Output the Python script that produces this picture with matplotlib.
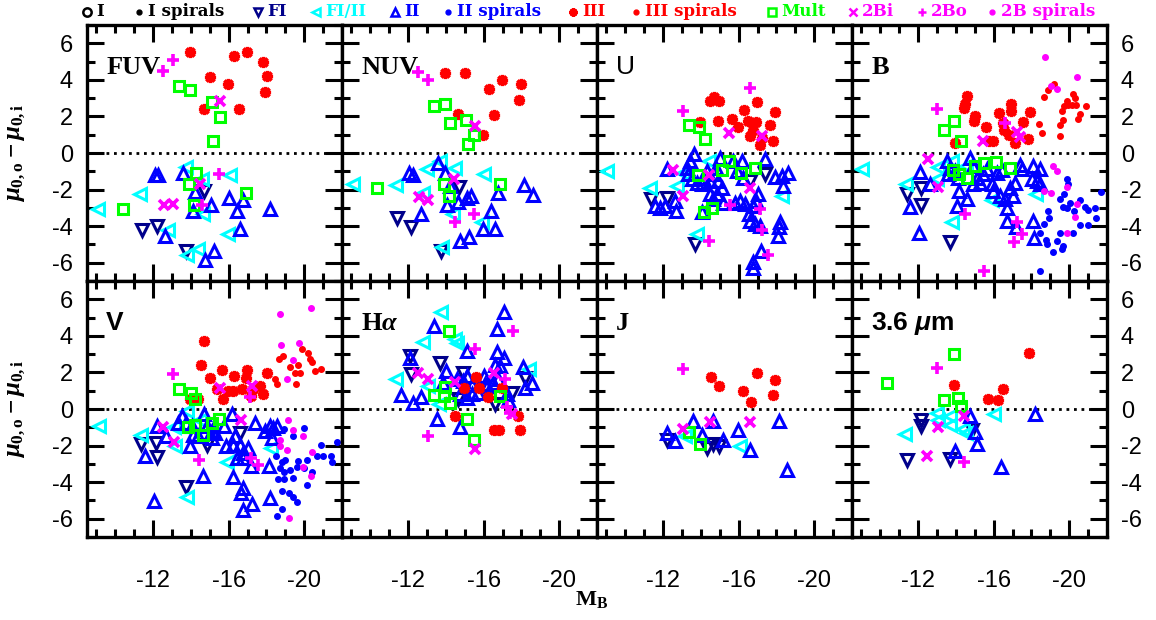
import matplotlib.pyplot as plt
from matplotlib.lines import Line2D
from matplotlib.ticker import MultipleLocator

plt.rcParams['font.family'] = ['Liberation Sans', 'DejaVu Sans']
plt.rcParams['axes.unicode_minus'] = False
plt.rcParams['mathtext.fontset'] = 'custom'
plt.rcParams['mathtext.rm'] = 'Liberation Serif:bold'
plt.rcParams['mathtext.bf'] = 'Liberation Serif:bold'
plt.rcParams['mathtext.it'] = 'Liberation Serif:bold:italic'
plt.rcParams['mathtext.sf'] = 'Liberation Sans:bold:italic'

# (M_B, mu_0,o - mu_0,i) per profile class, one set per band
fuv_fi = [(-11.41, -4.22), (-12.19, -3.98), (-14.69, -2.08), (-13.74, -5.35)]
fuv_fi_ii = [(-9.10, -3.04), (-11.31, -2.22), (-13.74, -0.77), (-14.59, -1.44), (-16.07, -1.21),
             (-12.81, -4.22), (-14.62, -3.35), (-15.98, -4.44), (-14.39, -5.25), (-13.78, -5.56)]
fuv_ii = [(-12.10, -1.21), (-12.28, -1.21), (-13.60, -1.08), (-14.22, -2.11), (-14.13, -3.17),
          (-15.05, -2.84), (-16.02, -2.48), (-16.42, -3.17), (-16.78, -2.59), (-18.19, -3.08),
          (-16.60, -4.17), (-12.63, -4.53), (-15.22, -5.35), (-14.76, -5.84)]
fuv_iii = [(-13.95, 5.51), (-16.28, 5.33), (-16.99, 5.51), (-17.80, 5.00), (-18.01, 4.19),
           (-17.94, 3.33), (-15.01, 4.17), (-15.98, 3.77), (-14.69, 2.42), (-16.56, 2.42)]
fuv_mult = [(-13.39, 3.68), (-13.95, 3.46), (-15.12, 2.79), (-15.54, 1.95), (-15.19, 0.65),
            (-14.27, -1.08), (-13.90, -1.71), (-14.16, -2.84), (-10.39, -3.08), (-16.92, -2.17)]
fuv_2bi = [(-15.54, 2.86), (-14.48, -1.68), (-12.58, -2.84), (-13.07, -2.80)]
fuv_2bo = [(-13.07, 5.09), (-12.54, 4.46), (-15.51, -1.17), (-14.57, -2.84)]

nuv_fi = [(-11.41, -3.57), (-12.15, -4.07), (-14.69, -1.86), (-13.72, -5.38)]
nuv_fi_ii = [(-9.06, -1.68), (-11.36, -1.75), (-13.02, -0.90), (-14.48, -0.81), (-16.02, -1.13),
             (-12.77, -2.17), (-14.39, -3.31), (-15.93, -3.80), (-13.78, -5.16), (-13.70, -0.45)]
nuv_ii = [(-13.56, -0.53), (-12.05, -1.08), (-12.24, -1.22), (-13.97, -1.08), (-14.22, -1.81),
          (-14.66, -2.66), (-15.10, -2.48), (-15.33, -2.35), (-14.04, -2.84), (-12.66, -3.35),
          (-16.37, -3.17), (-16.78, -2.17), (-18.15, -1.77), (-18.59, -2.30), (-15.98, -4.17),
          (-16.60, -4.13), (-14.75, -4.80), (-15.24, -4.62)]
nuv_iii = [(-13.97, 4.37), (-14.99, 4.40), (-16.28, 3.51), (-16.95, 3.97), (-17.96, 3.77),
           (-17.89, 2.92), (-14.66, 2.13), (-16.55, 2.10), (-15.98, 0.97)]
nuv_mult = [(-13.37, 2.55), (-13.95, 2.68), (-14.23, 1.64), (-15.08, 1.83), (-15.51, 1.01),
            (-15.15, 0.50), (-10.37, -1.90), (-13.88, -1.68), (-14.15, -2.37), (-16.88, -1.68)]
nuv_2bi = [(-15.54, 1.46), (-14.45, -1.44), (-12.56, -2.40), (-13.05, -2.55)]
nuv_2bo = [(-12.54, 4.42), (-13.07, 3.99), (-15.51, -3.35), (-14.48, -3.75)]

u_fi = [(-11.36, -2.53), (-12.19, -2.48), (-13.69, -4.98), (-17.39, -1.13), (-16.60, -1.53)]
u_fi_ii = [(-9.05, -0.99), (-11.31, -1.90), (-12.72, -1.81), (-14.41, -0.44), (-13.07, -1.08),
           (-18.28, -2.35), (-13.78, -4.44)]
u_ii = [(-13.64, -0.08), (-13.42, -0.44), (-13.25, -0.81), (-13.33, -1.17), (-13.51, -1.44),
        (-13.78, -1.62), (-14.04, -1.71), (-14.31, -0.99), (-14.13, -1.35), (-14.48, -1.53),
        (-14.80, -0.81), (-15.01, -0.26), (-14.69, -1.17), (-14.92, -1.53), (-15.10, -1.90),
        (-14.84, -2.26), (-14.48, -2.26), (-14.66, -2.53), (-15.19, -2.71), (-15.72, -0.44),
        (-16.16, -0.44), (-15.89, -0.99), (-16.25, -1.35), (-17.39, -0.35), (-17.92, -1.32),
        (-18.28, -1.26), (-18.63, -1.08), (-18.33, -1.81), (-12.22, -0.90), (-11.57, -2.89),
        (-11.84, -2.99), (-12.10, -2.89), (-12.63, -2.62), (-12.68, -3.17), (-15.81, -2.71),
        (-16.07, -2.62), (-16.33, -2.80), (-17.04, -2.26), (-16.92, -2.62), (-16.74, -2.89),
        (-16.56, -3.35), (-16.60, -3.71), (-16.86, -3.89), (-17.13, -3.98), (-18.19, -3.80),
        (-18.15, -4.07), (-18.10, -4.53), (-17.16, -5.35), (-16.78, -5.98), (-16.74, -6.29),
        (-14.04, -3.20)]
u_iii = [(-14.48, 2.86), (-14.69, 3.04), (-14.98, 2.86), (-16.95, 2.79), (-16.28, 2.33),
         (-17.94, 2.23), (-13.95, 1.70), (-14.92, 1.73), (-15.63, 1.88), (-15.98, 1.41),
         (-16.51, 1.77), (-16.92, 1.70), (-16.78, 1.28), (-17.66, 1.55), (-16.60, 0.92),
         (-17.22, 0.83), (-17.80, 0.68), (-17.13, 0.43)]
u_mult = [(-13.37, 1.52), (-13.92, 1.43), (-14.22, 0.74), (-15.51, -0.44), (-15.10, -0.95),
          (-16.12, -1.08), (-16.88, -0.84), (-13.86, -1.21), (-14.16, -3.20), (-14.59, -2.99)]
u_2bi = [(-15.51, 1.10), (-17.22, 0.92), (-12.54, -0.95), (-13.07, -2.35), (-14.45, -1.21),
         (-16.60, -1.90)]
u_2bo = [(-16.60, 3.55), (-13.07, 2.32), (-15.54, -2.84), (-17.13, -3.04), (-17.22, -4.22),
         (-17.53, -5.56), (-14.45, -4.80)]

b_fi = [(-11.39, -2.22), (-12.14, -1.90), (-12.14, -2.84), (-13.69, -4.86)]
b_fi_ii = [(-9.01, -0.90), (-11.34, -1.71), (-13.07, -0.77), (-12.98, -1.44), (-13.78, -0.44),
           (-14.53, -0.72), (-15.89, -2.57), (-13.78, -3.75), (-18.24, -2.26)]
b_ii = [(-12.10, -1.04), (-12.63, -1.71), (-11.57, -2.95), (-12.03, -4.35), (-13.51, -0.44),
        (-13.69, -0.81), (-13.60, -1.17), (-13.95, -0.99), (-14.13, -1.35), (-14.18, -2.08),
        (-14.04, -2.89), (-14.57, -2.53), (-14.75, -0.26), (-14.89, -0.72), (-15.10, -1.35),
        (-14.92, -1.71), (-15.28, -1.62), (-15.63, -0.90), (-15.89, -1.71), (-16.16, -1.08),
        (-15.98, -2.08), (-16.33, -2.35), (-16.60, -2.53), (-16.69, -2.99), (-17.04, -2.35),
        (-16.86, -1.90), (-17.13, -1.62), (-17.39, -0.63), (-17.48, -0.90), (-18.10, -0.72),
        (-18.45, -0.90), (-18.01, -1.44), (-18.28, -1.53), (-18.45, -1.71), (-16.69, -3.71),
        (-17.18, -4.04), (-18.10, -3.71), (-18.13, -4.66), (-16.42, -0.95), (-15.45, -1.17)]
b_ii_sp = [(-19.86, -1.44), (-19.95, -1.71), (-19.51, -2.50), (-19.72, -2.26), (-19.65, -2.95),
           (-19.86, -2.99), (-20.04, -2.71), (-20.57, -2.59), (-20.27, -3.17), (-20.83, -2.95),
           (-21.01, -3.13), (-21.36, -3.02), (-21.66, -2.11), (-21.42, -3.57), (-20.57, -3.93),
           (-21.01, -3.93), (-20.22, -4.35), (-19.51, -4.40), (-19.37, -4.80), (-19.65, -5.07),
           (-19.16, -5.44), (-19.60, -5.25), (-18.45, -6.44), (-18.89, -3.17), (-18.95, -3.57),
           (-18.66, -3.86), (-18.45, -4.35), (-18.77, -4.76), (-18.80, -4.95)]
b_iii = [(-14.61, 3.10), (-14.50, 2.68), (-14.41, 2.46), (-14.99, 2.04), (-14.96, 1.77),
         (-15.58, 1.41), (-16.26, 2.17), (-16.90, 2.68), (-16.92, 2.28), (-16.48, 1.64),
         (-16.56, 1.28), (-16.79, 1.01), (-17.11, 0.55), (-17.57, 1.70), (-17.92, 2.24),
         (-17.80, 0.74), (-15.77, 0.68), (-15.98, 0.65), (-13.95, 0.54)]
b_iii_sp = [(-18.42, 1.59), (-18.54, 1.10), (-18.66, 3.04), (-18.89, 3.46), (-19.21, 3.77),
            (-19.51, 0.92), (-19.51, 1.55), (-19.65, 1.83), (-19.60, 2.28), (-19.72, 2.55),
            (-19.86, 2.82), (-19.95, 2.61), (-20.13, 2.61), (-20.22, 3.22), (-20.31, 3.01),
            (-20.36, 2.61), (-20.48, 1.88), (-20.57, 2.13), (-20.89, 2.55)]
b_mult = [(-13.37, 1.28), (-13.92, 1.73), (-14.25, 0.68), (-13.83, -0.95), (-14.16, -1.13),
          (-14.57, -1.35), (-15.01, -0.72), (-15.51, -0.53), (-16.12, -0.50), (-16.86, -0.81)]
b_2bi = [(-12.54, -0.35), (-13.04, -1.86), (-15.45, 0.68), (-17.22, 1.15), (-17.39, 0.86)]
b_2bo = [(-13.02, 2.42), (-16.60, 1.64), (-14.48, -3.31), (-17.22, -3.80), (-17.48, -4.44),
         (-17.08, -4.86), (-15.51, -6.43)]
b_2b_sp = [(-18.73, 5.24), (-20.39, 4.13), (-19.03, 3.68), (-19.37, 3.51), (-19.16, -0.72),
           (-19.37, -0.99), (-18.66, -2.08), (-19.05, -2.17), (-19.90, -1.86), (-20.39, -2.77),
           (-20.32, -3.49), (-19.86, -4.37)]

v_fi = [(-11.36, -1.89), (-12.15, -1.86), (-12.19, -2.64), (-13.74, -4.27), (-16.60, -1.31),
        (-14.84, -1.95)]
v_fi_ii = [(-9.14, -0.94), (-11.36, -1.40), (-13.12, -0.98), (-13.78, -0.12), (-14.48, -0.58),
           (-13.16, -2.00), (-15.89, -2.92), (-18.22, -2.13), (-13.78, -4.82)]
v_ii = [(-12.22, -0.94), (-11.57, -2.55), (-12.05, -5.02), (-12.68, -1.49), (-13.33, -0.76),
        (-13.51, -0.39), (-13.74, -0.76), (-14.04, -0.94), (-14.13, -1.40), (-14.39, -1.49),
        (-13.95, -2.04), (-14.69, -0.30), (-14.84, -0.94), (-15.10, -1.22), (-15.10, -1.58),
        (-15.28, -1.31), (-15.75, -0.94), (-16.16, -0.30), (-15.86, -2.04), (-16.33, -1.46),
        (-16.25, -1.95), (-16.60, -1.95), (-16.74, -2.41), (-17.04, -2.13), (-16.42, -2.68),
        (-17.16, -3.14), (-16.78, -2.68), (-17.39, -0.76), (-17.92, -1.22), (-18.19, -0.94),
        (-18.36, -1.03), (-18.58, -0.91), (-18.28, -1.58), (-18.15, -3.14), (-18.19, -4.88),
        (-14.66, -3.69), (-16.21, -3.72), (-16.78, -4.33), (-16.64, -4.60), (-16.74, -5.52),
        (-17.22, -5.19)]
v_ii_sp = [(-18.93, -1.09), (-19.42, -1.49), (-19.99, -1.03), (-20.87, -1.95), (-21.72, -1.82),
           (-18.51, -2.55), (-18.81, -2.92), (-18.98, -2.81), (-19.69, -2.86), (-20.13, -2.77),
           (-20.66, -2.59), (-21.01, -2.59), (-21.40, -2.55), (-21.45, -2.92), (-18.72, -3.23),
           (-18.93, -3.47), (-19.25, -3.32), (-19.63, -3.18), (-19.99, -3.23), (-20.39, -3.47),
           (-18.63, -3.83), (-18.93, -3.83), (-19.42, -3.78), (-20.16, -4.15), (-18.81, -4.46),
           (-19.21, -4.60), (-19.42, -4.82), (-19.63, -5.06), (-18.81, -5.48), (-18.58, -5.85)]
v_iii = [(-14.69, 3.72), (-14.52, 2.39), (-15.01, 1.71), (-15.63, 2.13), (-16.28, 1.80),
         (-16.95, 2.13), (-16.92, 1.71), (-18.01, 1.95), (-17.66, 1.25), (-17.27, 1.07),
         (-16.69, 1.07), (-16.21, 0.98), (-15.98, 0.98), (-15.72, 0.56), (-15.36, 1.11),
         (-14.39, 0.56), (-13.95, 0.56), (-17.80, 0.80), (-17.16, 0.70)]
v_iii_sp = [(-18.45, 1.62), (-18.58, 1.34), (-18.68, 2.72), (-18.89, 2.90), (-19.25, 2.31),
            (-19.51, 1.99), (-19.56, 1.34), (-19.69, 2.39), (-19.86, 3.27), (-19.78, 1.99),
            (-20.22, 3.08), (-20.30, 2.72), (-20.39, 2.57), (-20.57, 2.08), (-20.87, 2.21)]
v_mult = [(-13.37, 1.07), (-13.99, 0.89), (-14.22, 0.52), (-13.86, -0.98), (-14.22, -0.85),
          (-14.62, -1.40), (-15.10, -0.76), (-15.51, -0.54)]
v_2bi = [(-12.54, -0.98), (-13.11, -1.82), (-15.54, 1.16), (-16.64, -0.58), (-17.22, 1.25)]
v_2bo = [(-13.07, 1.89), (-14.45, -2.77), (-17.16, -2.68), (-17.57, -3.05), (-17.13, 0.67)]
v_2b_sp = [(-18.72, 5.22), (-20.38, 5.55), (-18.77, 3.49), (-19.71, 3.63), (-19.39, 2.66),
           (-19.11, 1.62), (-19.16, -0.61), (-19.39, -1.16), (-19.92, -1.46), (-18.72, -1.67),
           (-18.72, -2.00), (-19.11, -2.22), (-20.43, -2.37), (-19.92, -3.18), (-20.34, -3.65),
           (-19.21, -5.94)]

ha_fi = [(-12.10, 2.90), (-12.14, 1.89), (-13.69, 2.50), (-14.92, 1.99), (-16.60, 0.25),
         (-18.19, 1.71), (-17.48, 0.89), (-14.66, 0.52)]
ha_fi_ii = [(-13.72, 5.28), (-12.77, 3.67), (-14.48, 3.85), (-14.57, 3.60), (-11.36, 1.66),
            (-13.07, 1.25), (-13.65, 0.25), (-18.42, 2.21)]
ha_ii = [(-17.09, 5.33), (-16.69, 4.40), (-13.39, 4.55), (-15.13, 3.18), (-16.72, 3.12),
         (-17.08, 2.81), (-16.86, 2.35), (-16.60, 2.39), (-12.10, 2.81), (-18.10, 2.31),
         (-18.54, 1.40), (-18.19, 1.16), (-11.61, 0.74), (-12.24, 0.34), (-12.66, 0.67),
         (-13.55, -0.54), (-14.75, -0.98), (-13.86, 1.40), (-14.01, 2.08), (-14.57, 1.62),
         (-15.10, 1.80), (-14.92, 1.53), (-15.36, 1.29), (-15.10, 0.61), (-14.75, 0.80),
         (-15.36, 0.80), (-16.02, 1.80), (-16.07, 1.34), (-16.51, 1.40), (-16.78, 1.66),
         (-17.22, 0.80), (-17.30, 0.48), (-15.72, 0.89), (-16.16, 1.25)]
ha_iii = [(-15.59, 1.77), (-14.96, 1.16), (-15.77, 1.16), (-16.95, 1.16), (-16.25, 0.67),
          (-14.48, -0.36), (-17.83, -0.39), (-17.92, -1.13), (-16.55, -1.16), (-16.83, -1.13)]
ha_mult = [(-14.18, 4.27), (-13.37, 0.74), (-13.95, 1.22), (-13.90, 0.70), (-14.22, 0.34),
           (-16.86, 0.70), (-15.10, -0.54), (-15.49, -1.68)]
ha_2bi = [(-12.54, 1.95), (-13.07, 1.66), (-14.48, 1.47), (-16.55, 1.99), (-17.48, -0.30),
          (-15.54, -2.19)]
ha_2bo = [(-17.53, 4.27), (-15.54, 3.27), (-17.13, 1.66), (-13.07, -1.46), (-17.22, 0.12),
          (-17.39, -0.21)]

j_fi = [(-12.19, -1.71), (-14.31, -2.13), (-14.66, -1.89), (-14.98, -2.04)]
j_fi_ii = [(-13.16, -1.49), (-16.07, -2.00)]
j_ii = [(-12.22, -1.31), (-12.63, -1.77), (-13.60, -0.67), (-14.04, -1.40), (-14.66, -0.67),
        (-15.19, -1.68), (-15.95, -1.16), (-16.60, -2.26), (-18.15, -0.67), (-18.58, -3.32)]
j_iii = [(-14.52, 1.77), (-14.96, 1.25), (-16.95, 1.99), (-17.92, 1.58), (-17.80, 0.74),
         (-16.25, 0.98), (-16.63, 0.41)]
j_mult = [(-13.39, -1.27), (-13.95, -1.89)]
j_2bi = [(-13.04, -1.09), (-14.48, -0.72), (-16.60, -0.72)]
j_2bo = [(-13.07, 2.20)]

irac_fi = [(-12.14, -0.58), (-12.14, -0.94), (-11.39, -2.81), (-13.69, -2.74), (-14.84, -1.13)]
irac_fi_ii = [(-11.31, -1.35), (-12.98, -0.21), (-13.07, -0.58), (-13.69, -0.36), (-13.69, -0.85),
              (-14.36, -1.09), (-14.53, -1.31), (-16.02, -0.30)]
irac_ii = [(-14.75, -0.39), (-15.01, -1.27), (-15.14, -1.89), (-13.95, -2.32), (-16.37, -3.18),
           (-18.19, -0.30)]
irac_iii = [(-17.89, 3.08), (-13.92, 1.29), (-16.48, 1.07), (-15.72, 0.56), (-16.25, 0.48)]
irac_mult = [(-10.37, 1.40), (-13.92, 2.99), (-13.37, 0.48), (-14.13, 0.61), (-14.25, 0.16)]
irac_2bi = [(-13.04, -1.00), (-12.49, -2.55), (-14.43, -0.36)]
irac_2bo = [(-13.02, 2.26), (-14.43, -2.92)]

# marker style of each class, in drawing order
NAVY = '#00008b'
GREEN = '#00ff00'
MAG = '#ff00ff'
styles = {
    'I': dict(marker='o', mfc='none', mec='black', ms=8, mew=2),
    'I spirals': dict(marker='o', mfc='black', mec='black', ms=4),
    'FI': dict(marker='v', mfc='none', mec=NAVY, ms=8.5, mew=2.2),
    'FI/II': dict(marker='<', mfc='none', mec='#00ffff', ms=8.5, mew=2.2),
    'II': dict(marker='^', mfc='none', mec='#0000ff', ms=8.5, mew=2.2),
    'II spirals': dict(marker='o', mfc='#0000ff', mec='#0000ff', ms=4),
    'III': dict(marker=(8, 2, 0), mfc='red', mec='red', ms=8, mew=2.4),
    'III spirals': dict(marker='o', mfc='red', mec='red', ms=4),
    'Mult': dict(marker='s', mfc='none', mec=GREEN, ms=7, mew=2.2),
    '2Bi': dict(marker='x', mfc='none', mec=MAG, ms=7, mew=2.6),
    '2Bo': dict(marker='+', mfc='none', mec=MAG, ms=9, mew=2.6),
    '2B spirals': dict(marker='o', mfc=MAG, mec=MAG, ms=4),
}
text_colors = {'I': 'black', 'I spirals': 'black', 'FI': NAVY, 'FI/II': '#00ffff',
               'II': '#0000ff', 'II spirals': '#0000ff', 'III': 'red', 'III spirals': 'red',
               'Mult': GREEN, '2Bi': MAG, '2Bo': MAG, '2B spirals': MAG}

panels = [
    ('FUV', 'serif', {'FI': fuv_fi, 'FI/II': fuv_fi_ii, 'II': fuv_ii, 'III': fuv_iii,
                      'Mult': fuv_mult, '2Bi': fuv_2bi, '2Bo': fuv_2bo}),
    ('NUV', 'serif', {'FI': nuv_fi, 'FI/II': nuv_fi_ii, 'II': nuv_ii, 'III': nuv_iii,
                      'Mult': nuv_mult, '2Bi': nuv_2bi, '2Bo': nuv_2bo}),
    ('U', 'sans', {'FI': u_fi, 'FI/II': u_fi_ii, 'II': u_ii, 'III': u_iii,
                   'Mult': u_mult, '2Bi': u_2bi, '2Bo': u_2bo}),
    ('B', 'serif', {'FI': b_fi, 'FI/II': b_fi_ii, 'II': b_ii, 'II spirals': b_ii_sp,
                    'III': b_iii, 'III spirals': b_iii_sp, 'Mult': b_mult, '2Bi': b_2bi,
                    '2Bo': b_2bo, '2B spirals': b_2b_sp}),
    ('V', 'sansbold', {'FI': v_fi, 'FI/II': v_fi_ii, 'II': v_ii, 'II spirals': v_ii_sp,
                       'III': v_iii, 'III spirals': v_iii_sp, 'Mult': v_mult, '2Bi': v_2bi,
                       '2Bo': v_2bo, '2B spirals': v_2b_sp}),
    (r'H$\alpha$', 'serif', {'FI': ha_fi, 'FI/II': ha_fi_ii, 'II': ha_ii, 'III': ha_iii,
                             'Mult': ha_mult, '2Bi': ha_2bi, '2Bo': ha_2bo}),
    ('J', 'serif', {'FI': j_fi, 'FI/II': j_fi_ii, 'II': j_ii, 'III': j_iii,
                    'Mult': j_mult, '2Bi': j_2bi, '2Bo': j_2bo}),
    (r'3.6 $\mathsf{\mu}$m', 'sansbold', {'FI': irac_fi, 'FI/II': irac_fi_ii, 'II': irac_ii,
                                          'III': irac_iii, 'Mult': irac_mult,
                                          '2Bi': irac_2bi, '2Bo': irac_2bo}),
]
label_fonts = {
    'serif': dict(family='Liberation Serif', weight='bold', size=19),
    'sans': dict(family='Liberation Sans', weight='normal', size=19),
    'sansbold': dict(family='Liberation Sans', weight='bold', size=19),
}

W, H = 1156, 620
fig = plt.figure(figsize=(W / 100, H / 100), dpi=100)
gs = fig.add_gridspec(2, 4, left=87 / W, right=1107 / W, top=1 - 25 / H, bottom=1 - 537 / H,
                      wspace=0, hspace=0)

for i, (name, font, groups) in enumerate(panels):
    row, col = divmod(i, 4)
    ax = fig.add_subplot(gs[row, col])
    ax.set_xlim(-8.5, -22)
    ax.set_ylim(-7, 7)
    ax.plot([-9.5, -21.2], [0, 0], color='black', lw=2.0, ls=(0, (1, 1.7)))
    for key in styles:
        if key in groups:
            xs = [p[0] for p in groups[key]]
            ys = [p[1] for p in groups[key]]
            ax.plot(xs, ys, ls='none', **styles[key])
    ax.text(0.075, 0.81, name, transform=ax.transAxes, va='baseline', ha='left',
            **label_fonts[font])

    ax.xaxis.set_major_locator(MultipleLocator(4))
    ax.xaxis.set_minor_locator(MultipleLocator(1))
    ax.yaxis.set_major_locator(MultipleLocator(2))
    ax.yaxis.set_minor_locator(MultipleLocator(1))
    ax.tick_params(which='both', direction='in', top=True, right=True, width=2.2,
                   labelsize=17, labelbottom=(row == 1), labelleft=(col == 0),
                   labelright=(col == 3))
    ax.tick_params(which='major', length=12)
    ax.tick_params(which='minor', length=6)
    ax.tick_params(axis='x', pad=24)
    ax.tick_params(axis='y', pad=10)
    for s in ax.spines.values():
        s.set_linewidth(2.4)

# class key along the top
key_x = [87, 139, 258, 316, 395, 448, 573, 636, 772, 853, 922, 992]
for x, key in zip(key_x, styles):
    st = dict(styles[key])
    st['ms'] = min(st['ms'], 6) if st['ms'] > 4 else 3.5
    st['mew'] = min(st.get('mew', 1), 1.8)
    fig.add_artist(Line2D([x / W], [1 - 12 / H], transform=fig.transFigure, ls='none', **st))
    fig.text((x + 9) / W, 1 - 12 / H, key, color=text_colors[key], family='DejaVu Serif',
             weight='bold', size=12, va='center', ha='left')

# axis titles
for yc in (153, 409):
    fig.text(16 / W, 1 - yc / H, r'$\mu_{0,\mathrm{o}} - \mu_{0,\mathrm{i}}$', rotation=90,
             size=18, va='center', ha='center')
fig.text(592 / W, 1 - 600 / H, r'$\mathrm{M_B}$', size=16, va='center', ha='center')

fig.savefig('out.png', dpi=100)
